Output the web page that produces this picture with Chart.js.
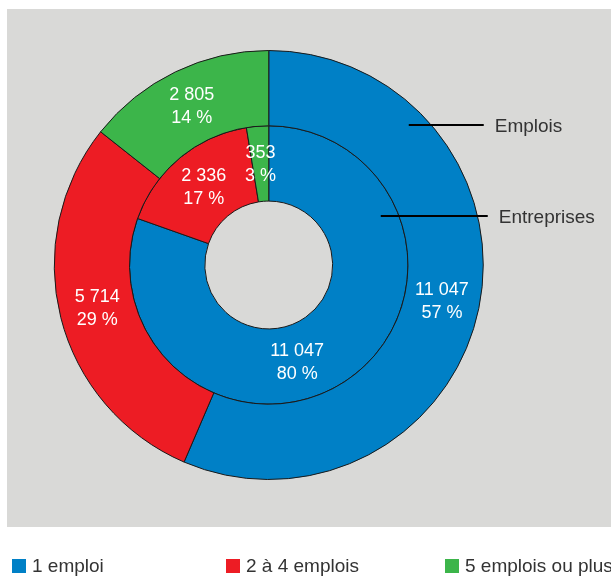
<!DOCTYPE html>
<html>
<head>
<meta charset="utf-8">
<script src="https://cdn.jsdelivr.net/npm/chart.js@4/dist/chart.umd.min.js"></script>
<style>
  html, body { margin: 0; padding: 0; background: #fff; }
  #wrap { position: relative; width: 611px; height: 576px; }
</style>
</head>
<body>
<div id="wrap"><canvas id="chart" width="611" height="576"></canvas></div>
<script>
// categories + values
const categories = ["1 emploi", "2 à 4 emplois", "5 emplois ou plus"];
const emplois = [11047, 5714, 2805];
const entreprises = [11047, 2336, 353];
const ringNames = ["Emplois", "Entreprises"];
const colors = ["#0080C6", "#ED1C24", "#3CB54A"];

const fmt = n => n.toLocaleString("fr-FR").replace(/\s/g, " ");

// rounded percents that add up to 100 (largest remainder)
const percents = data => {
    const total = data.reduce((a, b) => a + b, 0);
    const raw = data.map(v => v / total * 100);
    const out = raw.map(Math.floor);
    let left = 100 - out.reduce((a, b) => a + b, 0);
    raw.map((v, i) => [v - Math.floor(v), i])
        .sort((a, b) => b[0] - a[0])
        .forEach(([, i]) => { if (left > 0) { out[i]++; left--; } });
    return out;
};

// grey panel behind the donut
const panel = {
    id: "panel",
    beforeDraw(chart) {
        const ctx = chart.ctx;
        ctx.save();
        ctx.fillStyle = "#D9D9D7";
        ctx.fillRect(7, 9, 604, 518);
        ctx.restore();
    }
};

// values + percents inside each slice, ring names on the right, legend below
const sliceLabels = {
    id: "sliceLabels",
    afterDatasetsDraw(chart, args, opts) {
        const ctx = chart.ctx;
        ctx.save();
        ctx.font = "18px 'Liberation Sans', Arial, sans-serif";
        ctx.textAlign = "center";
        ctx.textBaseline = "middle";
        ctx.fillStyle = "#fff";
        chart.data.datasets.forEach((ds, di) => {
            const pct = percents(ds.data);
            chart.getDatasetMeta(di).data.forEach((arc, i) => {
                const p = arc.getProps(["x", "y", "startAngle", "endAngle", "innerRadius", "outerRadius"], true);
                const shift = (opts.shift[di + "-" + i] || 0) * Math.PI / 180;
                const a = (p.startAngle + p.endAngle) / 2 + shift;
                const r = (p.innerRadius + p.outerRadius) / 2;
                const x = p.x + Math.cos(a) * r;
                const y = p.y + Math.sin(a) * r;
                ctx.fillText(fmt(ds.data[i]), x, y - 11);
                ctx.fillText(pct[i] + " %", x, y + 12);
            });
        });

        // ring names with leader lines
        const meta0 = chart.getDatasetMeta(0).data[0];
        const meta1 = chart.getDatasetMeta(1).data[0];
        ctx.strokeStyle = "#000";
        ctx.lineWidth = 2;
        ctx.fillStyle = "#333";
        ctx.textAlign = "left";
        ctx.font = "19px 'Liberation Sans', Arial, sans-serif";
        const rings = [
            { y: meta0.y - 140, x1: meta0.x + 140, x2: meta0.x + 215 },
            { y: meta1.y - 49, x1: meta1.x + 112, x2: meta1.x + 219 }
        ];
        rings.forEach((r, i) => {
            ctx.beginPath();
            ctx.moveTo(r.x1, r.y);
            ctx.lineTo(r.x2, r.y);
            ctx.stroke();
            ctx.fillText(ringNames[i], r.x2 + 11, r.y + 2);
        });

        // legend
        const lx = [12, 226, 445];
        categories.forEach((c, i) => {
            ctx.fillStyle = colors[i];
            ctx.fillRect(lx[i], 559, 14, 14);
            ctx.fillStyle = "#333";
            ctx.fillText(c, lx[i] + 20, 567);
        });
        ctx.restore();
    }
};

new Chart(document.getElementById("chart"), {
    type: "doughnut",
    data: {
        labels: categories,
        datasets: [
            { label: ringNames[0], data: emplois, backgroundColor: colors, borderColor: "#1a1a1a", borderWidth: 1 },
            { label: ringNames[1], data: entreprises, backgroundColor: colors, borderColor: "#1a1a1a", borderWidth: 1 }
        ]
    },
    options: {
        responsive: false,
        animation: false,
        cutout: "29.8%",
        layout: { padding: { left: 53.5, right: 127, top: 50, bottom: 96 } },
        plugins: {
            legend: { display: false },
            tooltip: { enabled: false },
            sliceLabels: { shift: { "1-0": 19 } }
        }
    },
    plugins: [panel, sliceLabels]
});
</script>
</body>
</html>
